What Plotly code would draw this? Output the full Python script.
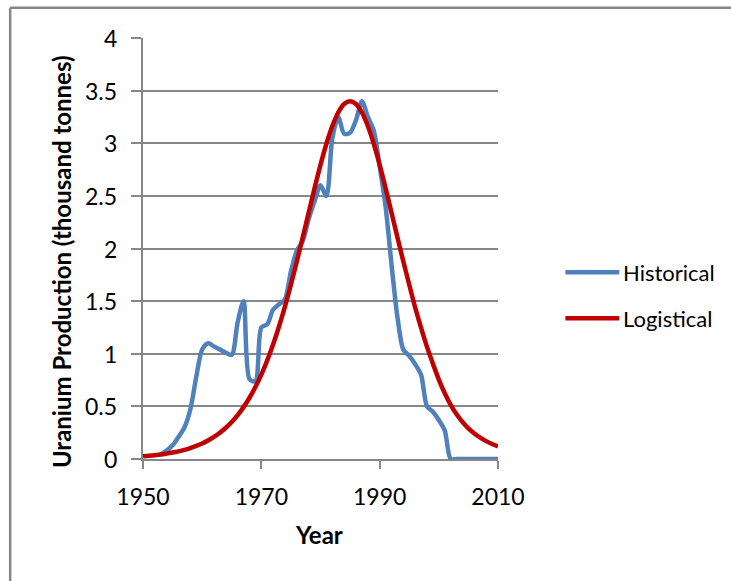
import plotly.graph_objects as go

# Historical uranium production (thousand tonnes), one value per year
hist_years = list(range(1953, 2011))
hist_values = [
    0.04, 0.08, 0.13, 0.21, 0.30, 0.47, 0.78, 1.04,   # 1953-1960
    1.10, 1.07, 1.04, 1.01, 0.99, 1.30, 1.50, 0.76,   # 1961-1968
    0.74, 1.25, 1.28, 1.42, 1.47, 1.52, 1.78, 1.98,   # 1969-1976
    2.07, 2.28, 2.45, 2.60, 2.50, 3.05, 3.25, 3.09,   # 1977-1984
    3.10, 3.22, 3.40, 3.25, 3.12, 2.78, 2.40, 1.85,   # 1985-1992
    1.35, 1.04, 0.98, 0.90, 0.80, 0.50, 0.45, 0.37,   # 1993-2000
    0.27, 0.00, 0.00, 0.00, 0.00, 0.00, 0.00, 0.00,   # 2001-2008
    0.00, 0.00,                                       # 2009-2010
]

# Logistical (Hubbert-type) production curve
logi_years = list(range(1950, 2011))
logi_values = [
    0.025, 0.030, 0.036, 0.043, 0.051, 0.061, 0.073, 0.087,  # 1950-1957
    0.104, 0.124, 0.148, 0.176, 0.210, 0.250, 0.297, 0.352,  # 1958-1965
    0.417, 0.493, 0.582, 0.684, 0.802, 0.937, 1.090, 1.261,  # 1966-1973
    1.450, 1.656, 1.876, 2.106, 2.341, 2.574, 2.795, 2.995,  # 1974-1981
    3.164, 3.292, 3.373, 3.400, 3.373, 3.292, 3.164, 2.995,  # 1982-1989
    2.795, 2.574, 2.341, 2.106, 1.876, 1.656, 1.440, 1.245,  # 1990-1997
    1.065, 0.905, 0.755, 0.625, 0.515, 0.425, 0.352, 0.292,  # 1998-2005
    0.243, 0.203, 0.170, 0.142, 0.119,                       # 2006-2010
]

x_ticks = [1950, 1970, 1990, 2010]
y_ticks = [0, 0.5, 1, 1.5, 2, 2.5, 3, 3.5, 4]
y_tick_labels = ["0", "0.5", "1", "1.5", "2", "2.5", "3", "3.5", "4"]
series_names = ["Historical", "Logistical"]
series_colors = ["#4F81BD", "#C00000"]

W, H = 731, 581
PLOT_L, PLOT_R, PLOT_T, PLOT_B = 143, 498.5, 37.7, 459.3
GRAY = "#878787"
FONT = "Lato, 'Open Sans', Arial, sans-serif"


def px(x):
    return (x - PLOT_L) / (PLOT_R - PLOT_L)


def py(y):
    return (PLOT_B - y) / (PLOT_B - PLOT_T)


fig = go.Figure()
fig.add_trace(go.Scatter(
    x=hist_years, y=hist_values, mode="lines", name=series_names[0],
    line=dict(color=series_colors[0], width=4.5, shape="spline", smoothing=0.8),
    showlegend=False,
))
fig.add_trace(go.Scatter(
    x=logi_years, y=logi_values, mode="lines", name=series_names[1],
    line=dict(color=series_colors[1], width=4.5, shape="spline", smoothing=1.0),
    showlegend=False,
))

shapes = [
    # chart frame (left and top edges)
    dict(type="line", xref="paper", yref="paper", x0=px(10), x1=px(760),
         y0=py(7.5), y1=py(7.5), line=dict(color=GRAY, width=2.5)),
    dict(type="line", xref="paper", yref="paper", x0=px(10), x1=px(10),
         y0=py(7.5), y1=py(620), line=dict(color=GRAY, width=2.5)),
]
annotations = []

# y tick labels, set a little away from the tick marks
for val, lab in zip(y_ticks, y_tick_labels):
    annotations.append(dict(text=lab, xref="paper", yref="y", x=px(119), y=val,
                            xanchor="right", yanchor="middle", showarrow=False,
                            font=dict(family=FONT, size=23, color="#000")))

# legend drawn as line swatches with labels
legend_y = [272.3, 318.3]
for name, color, ly in zip(series_names, series_colors, legend_y):
    shapes.append(dict(type="line", xref="paper", yref="paper",
                       x0=px(566), x1=px(620), y0=py(ly), y1=py(ly),
                       line=dict(color=color, width=4.5)))
    annotations.append(dict(text=name, xref="paper", yref="paper",
                            x=px(622), y=py(ly), xanchor="left", yanchor="middle",
                            showarrow=False, font=dict(family=FONT, size=22, color="#000")))

annotations.append(dict(text="<b>Year</b>", xref="paper", yref="paper",
                        x=px(319), y=py(535), xanchor="center", yanchor="middle",
                        showarrow=False, font=dict(family=FONT, size=24, color="#000")))
annotations.append(dict(text="<b>Uranium Production (thousand tonnes)</b>", xref="paper",
                        yref="paper", x=px(62), y=py(262), xanchor="center",
                        yanchor="middle", textangle=-90, showarrow=False,
                        font=dict(family=FONT, size=24, color="#000")))

fig.update_layout(
    width=W, height=H,
    margin=dict(l=PLOT_L, r=W - PLOT_R, t=PLOT_T, b=H - PLOT_B, pad=0),
    paper_bgcolor="white", plot_bgcolor="white",
    font=dict(family=FONT, size=23, color="#000"),
    shapes=shapes, annotations=annotations,
    showlegend=False,
)
fig.update_xaxes(
    range=[1950, 2010], tickvals=x_ticks, ticktext=[str(v) for v in x_ticks],
    showgrid=False, zeroline=False, showline=True, linecolor=GRAY, linewidth=1.5,
    ticks="outside", ticklen=8, tickwidth=1.5, tickcolor=GRAY,
    ticklabelstandoff=9, tickfont=dict(size=23),
)
fig.update_yaxes(
    range=[0, 4], tickvals=y_ticks, showticklabels=False,
    showgrid=True, gridcolor=GRAY, gridwidth=1.5, zeroline=False,
    showline=True, linecolor=GRAY, linewidth=1.5,
    ticks="outside", ticklen=10, tickwidth=1.5, tickcolor=GRAY,
)

fig.write_html("out.html")
